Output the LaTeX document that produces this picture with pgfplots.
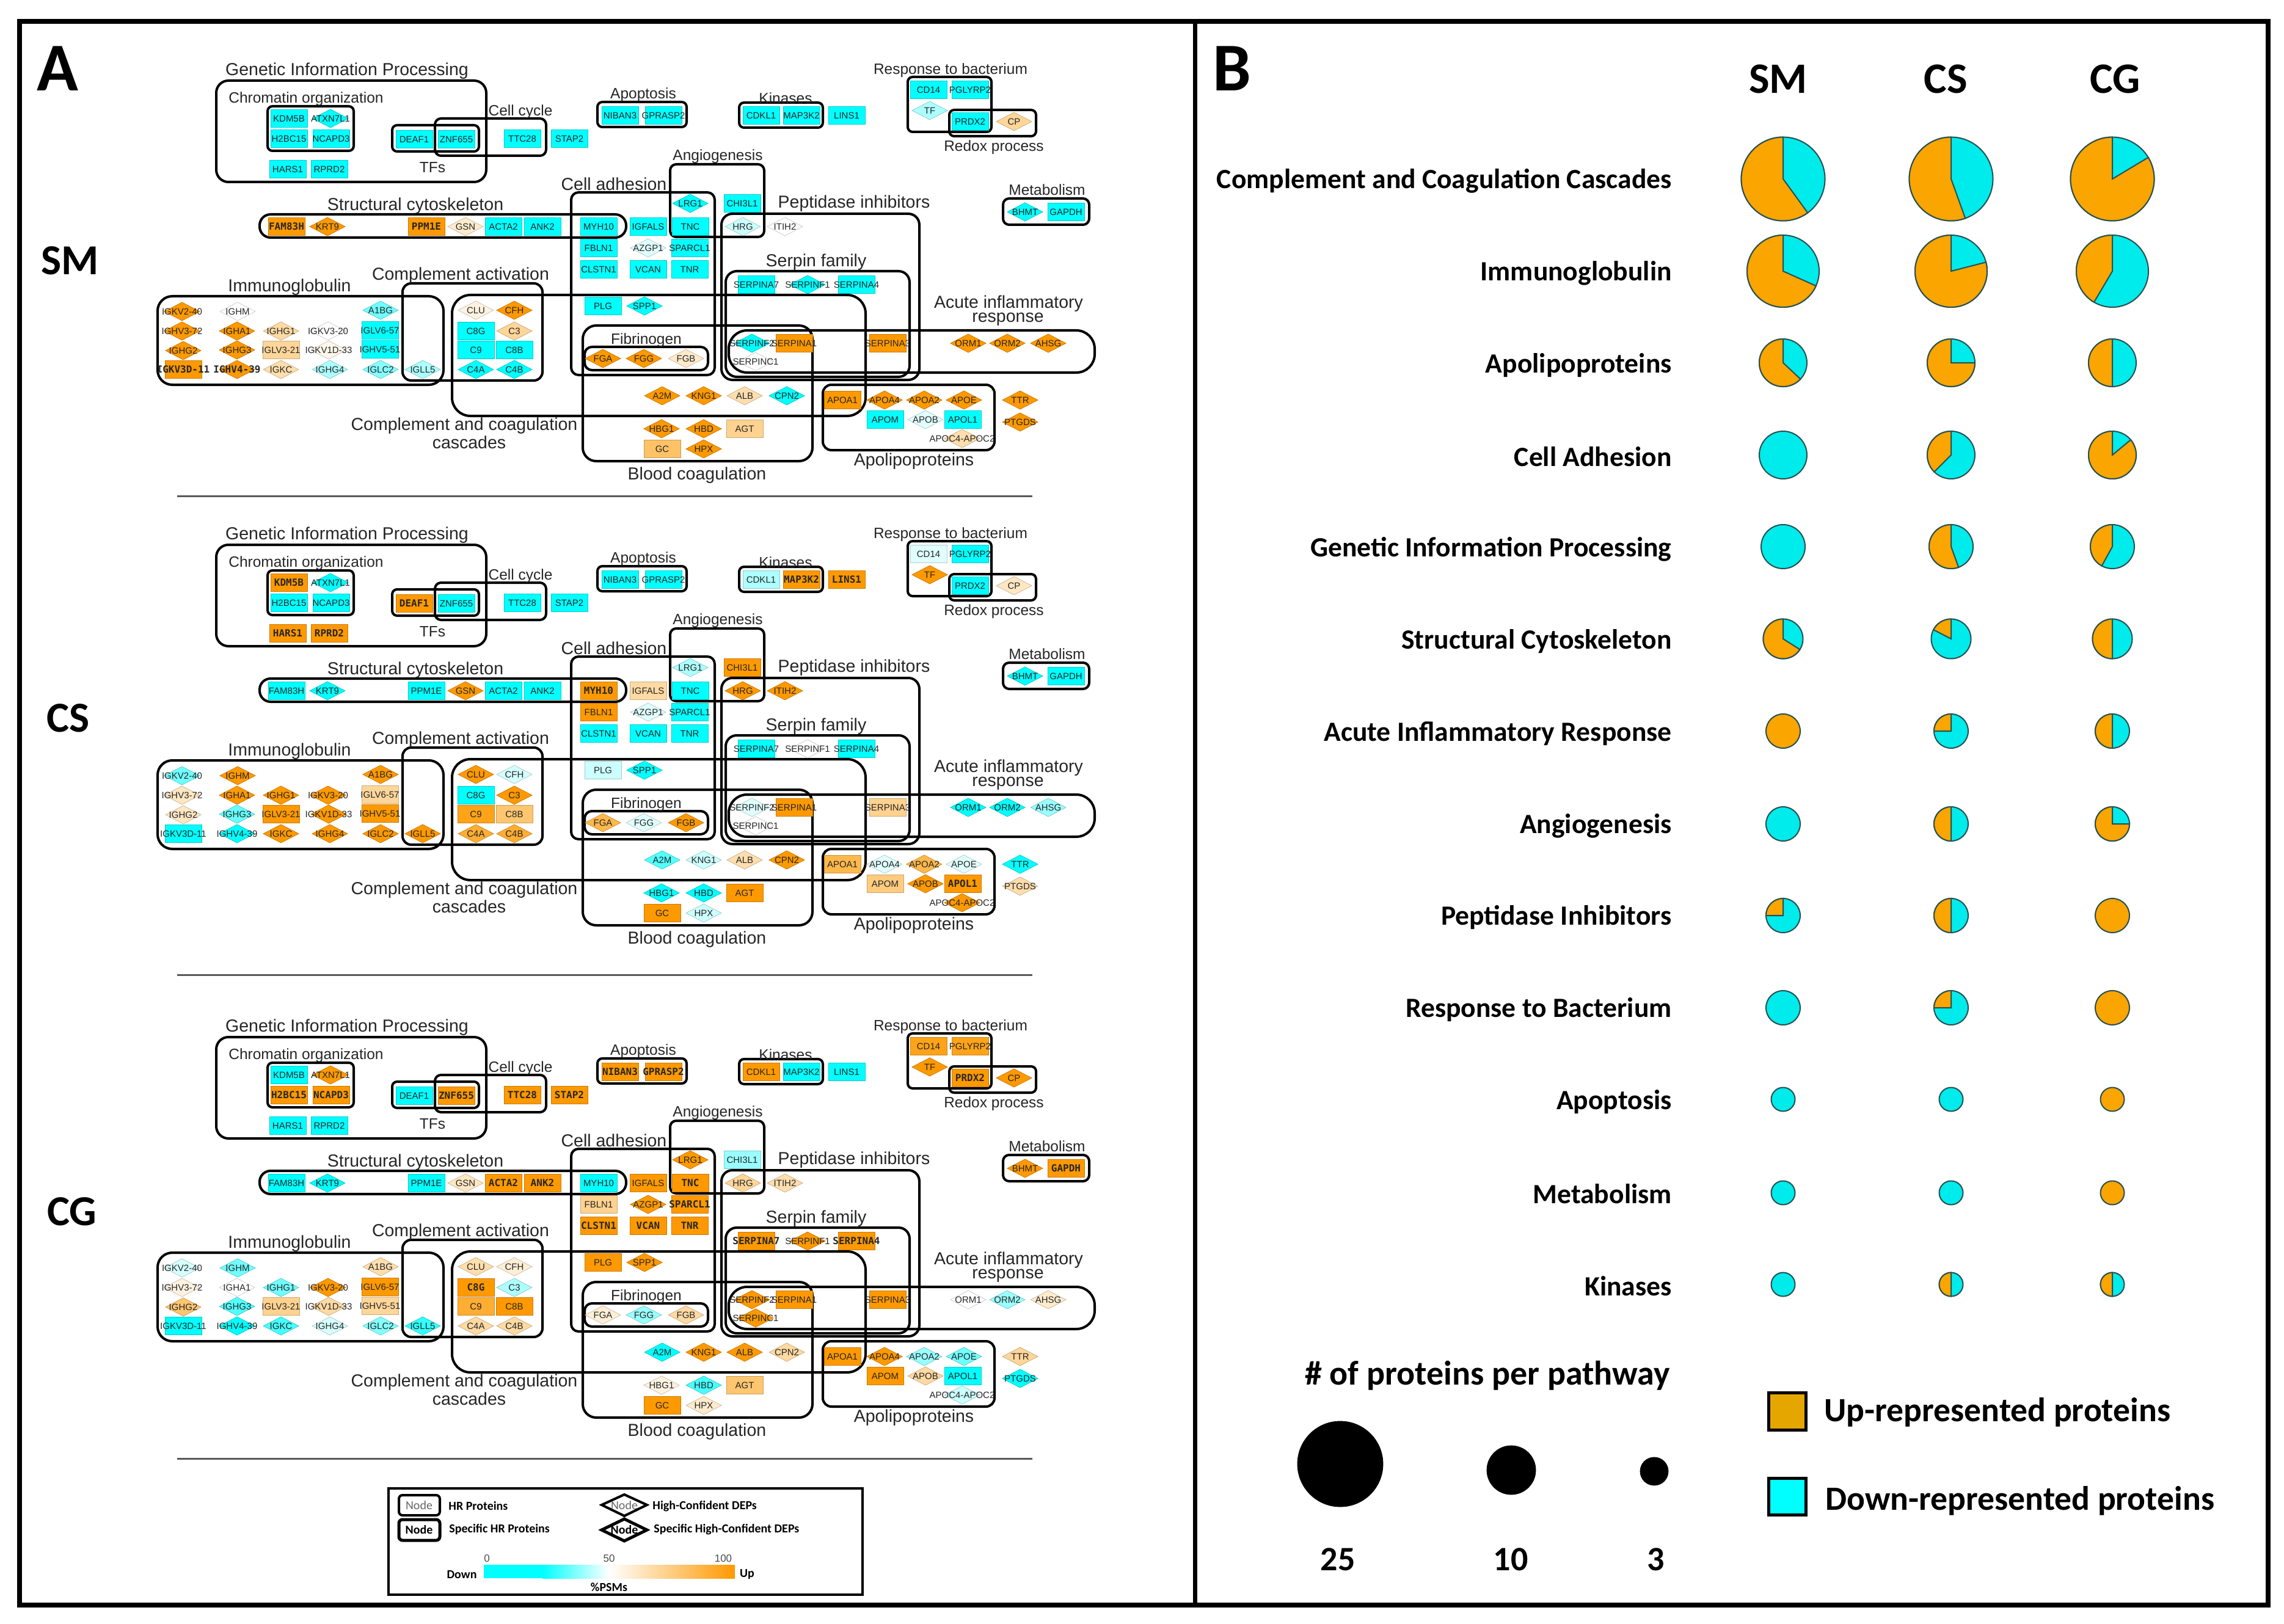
\documentclass[border=0pt]{standalone}
\usepackage{fontspec}
\usepackage{pgfplots}
\usepackage{pgfplotstable}
\pgfplotsset{compat=1.18}
\setmainfont{Liberation Sans}
\newfontfamily\carl{Carlito}
\newfontfamily\monob{DejaVu Sans Mono}
% 1 px of the reference = 0.5pt here
\newcommand{\fs}[1]{\fontsize{#1}{#1}\selectfont}
\newcommand{\nodeplain}{\fs{7.5}}
\newcommand{\nodebold}{\monob\bfseries\fs{8}}
\definecolor{upor}{RGB}{250,165,0}
\definecolor{downcy}{RGB}{0,235,235}
\definecolor{pieedge}{RGB}{40,80,80}
\definecolor{mapcy}{RGB}{0,255,255}
\definecolor{mapor}{RGB}{255,153,0}
\definecolor{keyor}{RGB}{229,166,0}

\pgfdeclareplotmark{boxmark}{%
  \pgfsetcornersarced{\pgfpoint{2pt}{2pt}}%
  \pgfpathrectanglecorners{\pgfpoint{-15pt}{-7.25pt}}{\pgfpoint{15pt}{7.25pt}}%
  \pgfusepathqfillstroke}
\pgfdeclareplotmark{diamark}{%
  \pgfpathmoveto{\pgfpoint{-14.5pt}{0pt}}%
  \pgfpathlineto{\pgfpoint{0pt}{7.5pt}}%
  \pgfpathlineto{\pgfpoint{14.5pt}{0pt}}%
  \pgfpathlineto{\pgfpoint{0pt}{-7.5pt}}%
  \pgfpathclose\pgfusepathqfillstroke}
% pie from \pr (radius in pt) and \pu (share of up-represented proteins in %)
\pgfdeclareplotmark{piemark}{%
  \pgfkeys{/pgf/fpu=false}%
  \pgfsetlinewidth{1pt}%
  \pgfsetstrokecolor{pieedge}%
  \ifdim\pu pt>99pt \pgfsetfillcolor{upor}\else\pgfsetfillcolor{downcy}\fi
  \pgfpathcircle{\pgfpointorigin}{\pr pt}\pgfusepathqfillstroke
  \ifdim\pu pt>0pt \ifdim\pu pt<100pt
    \pgfmathsetmacro{\ee}{90+3.6*\pu}%
    \pgfsetfillcolor{upor}%
    \pgfpathmoveto{\pgfpointorigin}%
    \pgfpathlineto{\pgfpointpolar{90}{\pr pt}}%
    \pgfpatharc{90}{\ee}{\pr pt}%
    \pgfpathclose\pgfusepathqfillstroke
  \fi\fi}
\tikzset{pieset/.code 2 args={\def\pr{#1}\def\pu{#2}}}
\newcommand{\pie}[4]{\addplot[only marks,mark=piemark,pieset={#3}{#4}] coordinates {(#1,#2)};}

% level: 0-25 cyan, 50 white, 100 orange; b: bold label
\pgfplotstableread[col sep=comma]{
name,x,y,a,ba,b,bb,c,bc
KDM5B,473,194,0,0,100,1,0,0
H2BC15,473,227,0,0,0,0,100,1
NCAPD3,542,227,0,0,0,0,100,1
HARS1,471,277,0,0,100,1,0,0
RPRD2,539,277,0,0,100,1,0,0
DEAF1,678,228,0,0,100,1,0,0
ZNF655,747,228,0,0,0,0,100,1
TTC28,855,227,0,0,0,0,100,1
STAP2,932,227,0,0,0,0,100,1
NIBAN3,1015,189,0,0,0,0,100,1
GPRASP2,1086,189,0,0,0,0,100,1
CDKL1,1246,189,0,0,42,0,100,0
MAP3K2,1312,189,0,0,100,1,0,0
LINS1,1386,189,0,0,100,1,0,0
CD14,1520,147,0,0,47,0,95,0
PGLYRP2,1588,147,0,0,0,0,95,0
PRDX2,1588,199,0,0,0,0,100,1
FAM83H,469,371,100,1,0,0,0,0
PPM1E,698,371,100,1,0,0,0,0
ACTA2,824,371,0,0,0,0,100,1
ANK2,888,371,0,0,0,0,100,1
MYH10,980,371,0,0,100,1,0,0
IGFALS,1061,371,0,0,68,0,100,0
TNC,1130,371,0,0,0,0,100,1
CHI3L1,1215,333,0,0,100,0,40,0
FBLN1,980,406,0,0,100,0,72,0
SPARCL1,1129,406,0,0,0,0,100,1
CLSTN1,980,441,0,0,0,0,100,1
VCAN,1061,441,0,0,0,0,100,1
TNR,1129,441,0,0,0,0,100,1
SERPINA7,1238,466,0,0,0,0,100,1
SERPINA4,1402,466,0,0,0,0,100,1
PLG,987,501,0,0,45,0,100,0
SERPINA1,1300,562,100,0,100,0,100,0
SERPINA3,1453,562,100,0,72,0,100,0
APOA1,1379,655,100,0,85,0,100,0
APOM,1449,687,0,0,75,0,100,0
APOL1,1576,687,0,0,100,1,0,0
AGT,1219,702,72,0,100,0,78,0
GC,1084,735,80,0,100,0,100,0
IGLV6-57,622,541,0,0,70,0,100,0
IGLV3-21,460,573,70,0,100,0,72,0
IGHV5-51,622,572,0,0,100,0,70,0
IGKV3D-11,300,605,100,1,0,0,0,0
C8G,779,542,0,0,0,0,100,1
C9,779,573,0,0,95,0,90,0
C8B,842,573,0,0,78,0,100,0
GAPDH,1745,347,0,0,0,0,100,1
}\boxtab

\pgfplotstableread[col sep=comma]{
name,x,y,a,ba,b,bb,c,bc
ATXN7L1,541,194,0,0,0,0,100,0
TF,1522,181,42,0,100,0,100,0
CP,1660,199,70,0,62,0,100,0
KRT9,536,371,100,0,0,0,0,0
GSN,762,371,60,0,100,0,62,0
LRG1,1130,333,0,0,42,0,100,0
HRG,1216,371,45,0,100,0,70,0
ITIH2,1285,371,50,0,100,0,66,0
AZGP1,1061,406,47,0,47,0,100,0
SERPINF1,1322,466,0,0,50,0,100,0
SPP1,1055,501,0,0,0,0,100,0
FGA,987,587,100,0,85,0,58,0
FGG,1054,587,100,0,47,0,40,0
FGB,1123,587,60,0,100,0,68,0
SERPINF2,1231,562,0,0,47,0,100,0
SERPINC1,1237,592,50,0,50,0,100,0
ORM1,1585,562,100,0,0,0,50,0
ORM2,1649,562,100,0,0,0,40,0
AHSG,1716,562,100,0,40,0,60,0
A2M,1084,648,100,0,33,0,0,0
KNG1,1152,648,100,0,45,0,100,0
ALB,1219,648,66,0,66,0,100,0
CPN2,1288,648,0,0,100,0,68,0
APOA4,1448,655,100,0,47,0,100,0
APOA2,1513,655,100,0,85,0,40,0
APOE,1578,655,100,0,47,0,36,0
TTR,1670,655,100,0,0,0,70,0
APOB,1515,687,47,0,100,0,68,0
PTGDS,1670,691,100,0,66,0,0,0
APOC4-APOC2,1575,718,66,0,100,0,45,0
HBG1,1083,702,100,0,0,0,56,0
HBD,1152,702,100,0,0,0,32,0
HPX,1152,735,100,0,45,0,60,0
IGKV2-40,298,510,100,0,36,0,46,0
IGHM,389,510,50,0,100,0,36,0
A1BG,623,508,36,0,100,0,66,0
IGHV3-72,298,542,100,0,62,0,56,0
IGHA1,388,542,100,0,100,0,50,0
IGHG1,460,542,68,0,100,0,36,0
IGKV3-20,537,542,50,0,100,0,100,0
IGHG2,300,574,100,0,62,0,78,0
IGHG3,388,573,100,0,35,0,33,0
IGKV1D-33,538,573,54,0,100,0,68,0
IGHV4-39,388,605,100,1,0,0,0,0
IGKC,460,605,66,0,100,0,32,0
IGHG4,540,605,42,0,100,0,46,0
IGLC2,623,605,38,0,100,0,38,0
IGLL5,692,605,42,0,100,0,30,0
CLU,779,508,56,0,100,0,66,0
CFH,842,508,100,0,46,0,58,0
C3,842,542,70,0,100,0,42,0
C4A,779,605,0,0,90,0,68,0
C4B,842,605,0,0,90,0,68,0
BHMT,1678,347,0,0,0,0,100,0
}\diatab

\pgfplotstableread[col sep=comma]{
x,y,txt
568,116,Genetic Information Processing
680,337,Structural cytoskeleton
474,470,Immunoglobulin
754,451,Complement activation
760,697,Complement and coagulation
768,724,cascades
1005,301,Cell adhesion
1398,333,Peptidase inhibitors
1336,429,Serpin family
1651,497,Acute inflammatory
1650,523,response
1496,755,Apolipoproteins
1141,778,Blood coagulation
}\biglab

\pgfplotstableread[col sep=comma]{
x,y,txt
501,162,Chromatin organization
852,183,Cell cycle
708,274,TFs
1053,155,Apoptosis
1286,161,Kinases
1556,115,Response to bacterium
1627,241,Redox process
1175,256,Angiogenesis
1714,311,Metabolism
1058,557,Fibrinogen
}\smalllab

\pgfplotsset{
  frm/.style={black,line width=2pt,no markers,line join=round},
  textonly/.style={only marks,mark=none,point meta=explicit symbolic,nodes near coords,
    nodes near coords style={anchor=center,inner sep=0pt,text=black!85,font=#1}},
}
\newcommand{\frm}[5]{\addplot[frm,rounded corners=#5pt,y filter/.expression={y+\off}]
  coordinates {(#1,#2)(#3,#2)(#3,#4)(#1,#4)} --cycle;}
% #1 y offset, #2 level column, #3 bold column
\newcommand{\panel}[3]{%
  \def\off{#1}%
  \addplot[scatter,only marks,mark=boxmark,point meta=\thisrow{#2}] table[x=x,y expr=\thisrow{y}+#1] \boxtab;
  \addplot[scatter,only marks,mark=diamark,point meta=\thisrow{#2}] table[x=x,y expr=\thisrow{y}+#1] \diatab;
  \addplot[textonly={\nodeplain},restrict expr to domain={\thisrow{#3}}{0:0}] table[x=x,y expr=\thisrow{y}+#1,meta=name] \boxtab;
  \addplot[textonly={\nodebold},restrict expr to domain={\thisrow{#3}}{1:1}] table[x=x,y expr=\thisrow{y}+#1,meta=name] \boxtab;
  \addplot[textonly={\nodeplain},restrict expr to domain={\thisrow{#3}}{0:0}] table[x=x,y expr=\thisrow{y}+#1,meta=name] \diatab;
  \addplot[textonly={\fs{14.25}}] table[x=x,y expr=\thisrow{y}+#1,meta=txt] \biglab;
  \addplot[textonly={\fs{12.25}}] table[x=x,y expr=\thisrow{y}+#1,meta=txt] \smalllab;
  \frm{354}{132}{796}{298}{10}
  \frm{438}{174}{579}{247}{4}
  \frm{642}{205}{784}{248}{4}
  \frm{712}{194}{894}{255}{5}
  \frm{425}{351}{1025}{389}{9}
  \frm{258}{485}{726}{630}{12}
  \frm{659}{464}{888}{623}{7}
  \frm{740}{483}{1417}{681}{15}
  \frm{935}{315}{1170}{614}{6}
  \frm{1097}{269}{1251}{388}{5}
  \frm{1181}{350}{1505}{622}{9}
  \frm{1188}{444}{1489}{617}{9}
  \frm{954}{533}{1330}{755}{11}
  \frm{957}{568}{1159}{606}{6}
  \frm{1193}{541}{1792}{610}{15}
  \frm{1347}{630}{1628}{737}{7}
  \frm{978}{167}{1124}{208}{4}
  \frm{1210}{168}{1347}{209}{4}
  \frm{1486}{126}{1623}{216}{4}
  \frm{1554}{180}{1696}{223}{4}
  \frm{1642}{325}{1783}{368}{5}
}

\begin{document}
\begin{tikzpicture}[every node/.style={inner sep=0pt}]
\begin{axis}[
  width=1869.5pt,height=1329.5pt,scale only axis,
  xmin=0,xmax=3739,ymin=0,ymax=2659,y dir=reverse,
  axis lines=none,clip=false,
  colormap={psm}{rgb255(0)=(0,255,255) rgb255(25)=(0,255,255) rgb255(50)=(255,255,255) rgb255(100)=(255,153,0)},
  colormap name=psm,
  point meta min=0,point meta max=100,
]
\addplot[draw=none,fill=white] coordinates {(0,0)(3739,0)(3739,2659)(0,2659)} --cycle;

\panel{0}{a}{ba}
\panel{760}{b}{bb}
\panel{1566}{c}{bc}
% the one bold diamond label
\addplot[textonly={\nodebold},restrict expr to domain={\thisrow{ba}}{1:1}] table[x=x,y=y,meta=name] \diatab;

% separators and panel frames
\addplot[black!65,line width=1.5pt] coordinates {(290,812)(1690,812)};
\addplot[black!65,line width=1.5pt] coordinates {(290,1596)(1690,1596)};
\addplot[black!65,line width=1.5pt] coordinates {(290,2388)(1690,2388)};
\addplot[black,line width=4pt] coordinates {(32,35)(3713,35)(3713,2628)(32,2628)} --cycle;
\addplot[black,line width=3.5pt] coordinates {(1956,35)(1956,2628)};

% legend of panel A
\addplot[black,line width=2pt] coordinates {(636,2437)(1412,2437)(1412,2611)(636,2611)} --cycle;
\addplot[black,line width=2pt,rounded corners=3pt] coordinates {(653,2448)(720,2448)(720,2481)(653,2481)} --cycle;
\addplot[black,line width=2.5pt,rounded corners=3pt] coordinates {(653,2488)(720,2488)(720,2522)(653,2522)} --cycle;
\addplot[black,line width=2pt] coordinates {(985,2464)(1022,2447)(1059,2464)(1022,2482)} --cycle;
\addplot[black,line width=2.5pt] coordinates {(985,2505)(1022,2487)(1059,2505)(1022,2523)} --cycle;
\addplot[draw=none,fill=mapcy] coordinates {(792,2562)(888,2562)(888,2584)(792,2584)} --cycle;
\addplot[draw=none,left color=mapcy,right color=white] coordinates {(888,2562)(997,2562)(997,2584)(888,2584)} --cycle;
\addplot[draw=none,left color=white,right color=mapor] coordinates {(997,2562)(1203,2562)(1203,2584)(997,2584)} --cycle;

% pies: x, y, radius in pt, % up-represented
\pie{2919}{293}{34.25}{60}
\pie{3194}{293}{34.25}{55.5}
\pie{3458}{293}{34.25}{83.6}
\pie{2919}{444}{29.5}{68.3}
\pie{3194}{444}{29.5}{79}
\pie{3458}{444}{29.5}{41.5}
\pie{2919}{594}{19.5}{63}
\pie{3194}{594}{19.5}{75}
\pie{3458}{594}{19.5}{50}
\pie{2919}{745}{19.5}{0}
\pie{3194}{745}{19.5}{37.5}
\pie{3458}{745}{19.5}{86}
\pie{2919}{895}{18}{0}
\pie{3194}{895}{18}{55.5}
\pie{3458}{895}{18}{42}
\pie{2919}{1046}{16.25}{66}
\pie{3194}{1046}{16.25}{17.4}
\pie{3458}{1046}{16.25}{50}
\pie{2919}{1197}{14}{100}
\pie{3194}{1197}{14}{25}
\pie{3458}{1197}{14}{50}
\pie{2919}{1349}{14}{0}
\pie{3194}{1349}{14}{50}
\pie{3458}{1349}{14}{75}
\pie{2919}{1499}{14}{25}
\pie{3194}{1499}{14}{50}
\pie{3458}{1499}{14}{100}
\pie{2919}{1650}{14}{0}
\pie{3194}{1650}{14}{25}
\pie{3458}{1650}{14}{100}
\pie{2919}{1800}{9.75}{0}
\pie{3194}{1800}{9.75}{0}
\pie{3458}{1800}{9.75}{100}
\pie{2919}{1953}{9.75}{0}
\pie{3194}{1953}{9.75}{0}
\pie{3458}{1953}{9.75}{100}
\pie{2919}{2103}{9.75}{0}
\pie{3194}{2103}{9.75}{50}
\pie{3458}{2103}{9.75}{50}

% size key
\addplot[only marks,mark=*,black,mark size=35pt] coordinates {(2194,2397)};
\addplot[only marks,mark=*,black,mark size=20pt] coordinates {(2474,2407)};
\addplot[only marks,mark=*,black,mark size=11.5pt] coordinates {(2708,2409)};

% colour key
\addplot[black,line width=2.5pt,fill=keyor] coordinates {(2895,2280)(2956,2280)(2956,2341)(2895,2341)} --cycle;
\addplot[black,line width=2.5pt,fill=mapcy] coordinates {(2895,2420)(2956,2420)(2956,2480)(2895,2480)} --cycle;

\node[font=\carl\bfseries\fs{56}] at (axis cs:94,112) {A};
\node[font=\carl\bfseries\fs{56}] at (axis cs:2017,112) {B};
\node[font=\carl\bfseries\fs{35}] at (axis cs:115,427) {SM};
\node[font=\carl\bfseries\fs{35}] at (axis cs:112,1176) {CS};
\node[font=\carl\bfseries\fs{35}] at (axis cs:118,1984) {CG};
\node[font=\carl\bfseries\fs{35.5}] at (axis cs:2911,129) {SM};
\node[font=\carl\bfseries\fs{35.5}] at (axis cs:3185,129) {CS};
\node[font=\carl\bfseries\fs{35.5}] at (axis cs:3463,129) {CG};

\node[font=\carl\bfseries\fs{22.8},anchor=east] at (axis cs:2737,296) {Complement and Coagulation Cascades};
\node[font=\carl\bfseries\fs{22.8},anchor=east] at (axis cs:2737,447) {Immunoglobulin};
\node[font=\carl\bfseries\fs{22.8},anchor=east] at (axis cs:2737,598) {Apolipoproteins};
\node[font=\carl\bfseries\fs{22.8},anchor=east] at (axis cs:2737,748) {Cell Adhesion};
\node[font=\carl\bfseries\fs{22.8},anchor=east] at (axis cs:2737,899) {Genetic Information Processing};
\node[font=\carl\bfseries\fs{22.8},anchor=east] at (axis cs:2737,1050) {Structural Cytoskeleton};
\node[font=\carl\bfseries\fs{22.8},anchor=east] at (axis cs:2737,1201) {Acute Inflammatory Response};
\node[font=\carl\bfseries\fs{22.8},anchor=east] at (axis cs:2737,1352) {Angiogenesis};
\node[font=\carl\bfseries\fs{22.8},anchor=east] at (axis cs:2737,1502) {Peptidase Inhibitors};
\node[font=\carl\bfseries\fs{22.8},anchor=east] at (axis cs:2737,1653) {Response to Bacterium};
\node[font=\carl\bfseries\fs{22.8},anchor=east] at (axis cs:2737,1804) {Apoptosis};
\node[font=\carl\bfseries\fs{22.8},anchor=east] at (axis cs:2737,1955) {Metabolism};
\node[font=\carl\bfseries\fs{22.8},anchor=east] at (axis cs:2737,2106) {Kinases};

\node[font=\carl\bfseries\fs{28}] at (axis cs:2435,2252) {\# of proteins per pathway};
\node[font=\carl\bfseries\fs{28}] at (axis cs:2190,2553) {25};
\node[font=\carl\bfseries\fs{28}] at (axis cs:2473,2553) {10};
\node[font=\carl\bfseries\fs{28}] at (axis cs:2711,2553) {3};
\node[font=\carl\bfseries\fs{27.8},anchor=west] at (axis cs:2986,2312) {Up-represented proteins};
\node[font=\carl\bfseries\fs{27.8},anchor=west] at (axis cs:2988,2457) {Down-represented proteins};

\node[font=\carl\fs{10},text=black!60] at (axis cs:686,2465) {Node};
\node[font=\carl\bfseries\fs{10}] at (axis cs:686,2505) {Node};
\node[font=\carl\fs{10},text=black!60] at (axis cs:1022,2465) {Node};
\node[font=\carl\bfseries\fs{10}] at (axis cs:1022,2505) {Node};
\node[font=\carl\bfseries\fs{10},anchor=west] at (axis cs:734,2466) {HR Proteins};
\node[font=\carl\bfseries\fs{10},anchor=west] at (axis cs:735,2504) {Specific HR Proteins};
\node[font=\carl\bfseries\fs{10},anchor=west] at (axis cs:1068,2466) {High-Confident DEPs};
\node[font=\carl\bfseries\fs{10},anchor=west] at (axis cs:1070,2504) {Specific High-Confident DEPs};
\node[font=\fs{8.5},text=black!70] at (axis cs:797,2552) {0};
\node[font=\fs{8.5},text=black!70] at (axis cs:997,2552) {50};
\node[font=\fs{8.5},text=black!70] at (axis cs:1184,2552) {100};
\node[font=\carl\bfseries\fs{10}] at (axis cs:756,2578) {Down};
\node[font=\carl\bfseries\fs{10}] at (axis cs:1223,2578) {Up};
\node[font=\carl\bfseries\fs{10}] at (axis cs:997,2599) {\%PSMs};
\end{axis}
\end{tikzpicture}
\end{document}
